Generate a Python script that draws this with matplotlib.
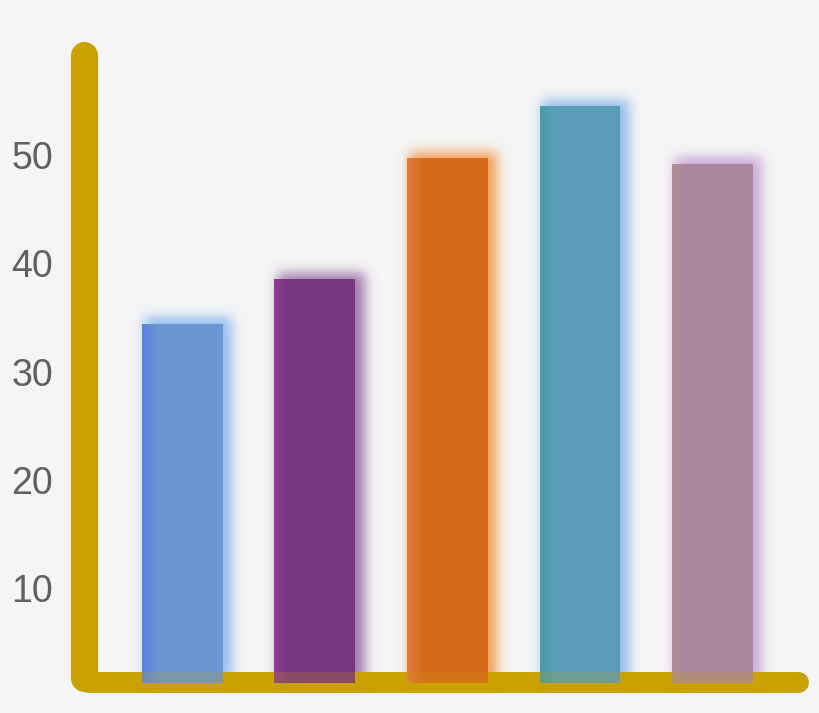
import matplotlib.pyplot as plt
import numpy as np
import matplotlib.colors as mcolors

# datos
valores = [34.4, 38.5, 49.7, 54.5, 49.2]
colores = ['#6a97d3', '#77377e', '#d4691b', '#5b9db9', '#ab869e']
bordes = ['#5a82dd', '#913b94', '#e27f3e', '#479ea6', '#b28d92']
brillos = ['#8fbaf0', '#9a74a6', '#f09a50', '#8ab8ea', '#c9a6d6']
marcas = [10, 20, 30, 40, 50]
base = 1.2

fondo = '#f5f5f5'
oro = '#c9a100'

fig = plt.figure(figsize=(8.2, 7.13), dpi=100, facecolor=fondo)
ax = fig.add_axes([62 / 820, 0, 1 - 62 / 820, 1])
ax.set_facecolor(fondo)
xlim = (-0.909, 4.811)
ylim = (-1.547, 64.32)
ax.set_xlim(*xlim)
ax.set_ylim(*ylim)

# tamano de un pixel en unidades de datos
px = 1 / 132.5
py = 1 / 10.825
ancho = 0.611


def difuminar(m, sigma):
    n = int(3 * sigma)
    t = np.arange(-n, n + 1)
    k = np.exp(-t ** 2 / (2 * sigma ** 2))
    k /= k.sum()
    m = np.apply_along_axis(lambda f: np.convolve(f, k, mode='same'), 0, m)
    m = np.apply_along_axis(lambda f: np.convolve(f, k, mode='same'), 1, m)
    return m


# brillo difuso detras de cada barra
nx, ny = 758, 713
xs = np.linspace(xlim[0], xlim[1], nx)
ys = np.linspace(ylim[1], ylim[0], ny)
X, Y = np.meshgrid(xs, ys)
for i, v in enumerate(valores):
    x0 = i - ancho / 2 + 6 * px - 3 * px
    x1 = i + ancho / 2 + 6 * px + 3 * px
    y1 = v + 4 * py + 3 * py
    m = ((X >= x0) & (X <= x1) & (Y >= base) & (Y <= y1)).astype(float)
    m = difuminar(m, 6)
    rgba = np.zeros((ny, nx, 4))
    rgba[..., :3] = mcolors.to_rgb(brillos[i])
    rgba[..., 3] = np.clip(m * 0.95, 0, 1)
    ax.imshow(rgba, extent=(xlim[0], xlim[1], ylim[0], ylim[1]),
              aspect='auto', zorder=1, interpolation='bilinear')

# ejes dorados
ax.plot([-0.743, -0.743], [59.2, 1.7], color=oro, lw=19.5,
        solid_capstyle='round', zorder=2, clip_on=False)
ax.plot([-0.713, 4.645], [1.36, 1.36], color=oro, lw=15,
        solid_capstyle='round', zorder=2, clip_on=False)

# barras
pos = list(range(len(valores)))
alturas = [v - base for v in valores]
ax.bar(pos, alturas, width=ancho, bottom=base, color=colores, lw=0, zorder=3)

# borde izquierdo con otro tono
for k in range(8):
    ax.bar([p - ancho / 2 + k * 2 * px for p in pos], alturas, width=2 * px,
           bottom=base, align='edge', color=bordes, lw=0,
           alpha=0.9 * (1 - k / 8), zorder=4)

# el eje x se trasluce sobre las barras
ax.plot([-0.713, 4.645], [1.36, 1.36], color=oro, lw=15, alpha=0.2,
        solid_capstyle='round', zorder=5, clip_on=False)

ax.set_xlim(*xlim)
ax.set_ylim(*ylim)
ax.set_yticks(marcas)
ax.set_yticklabels([str(m) for m in marcas], fontsize=27, color='#606060',
                   family='Liberation Sans')
ax.tick_params(axis='y', length=0, pad=6.5)
ax.set_xticks([])
for s in ax.spines.values():
    s.set_visible(False)

fig.savefig('out.png', dpi=100, facecolor=fondo)
